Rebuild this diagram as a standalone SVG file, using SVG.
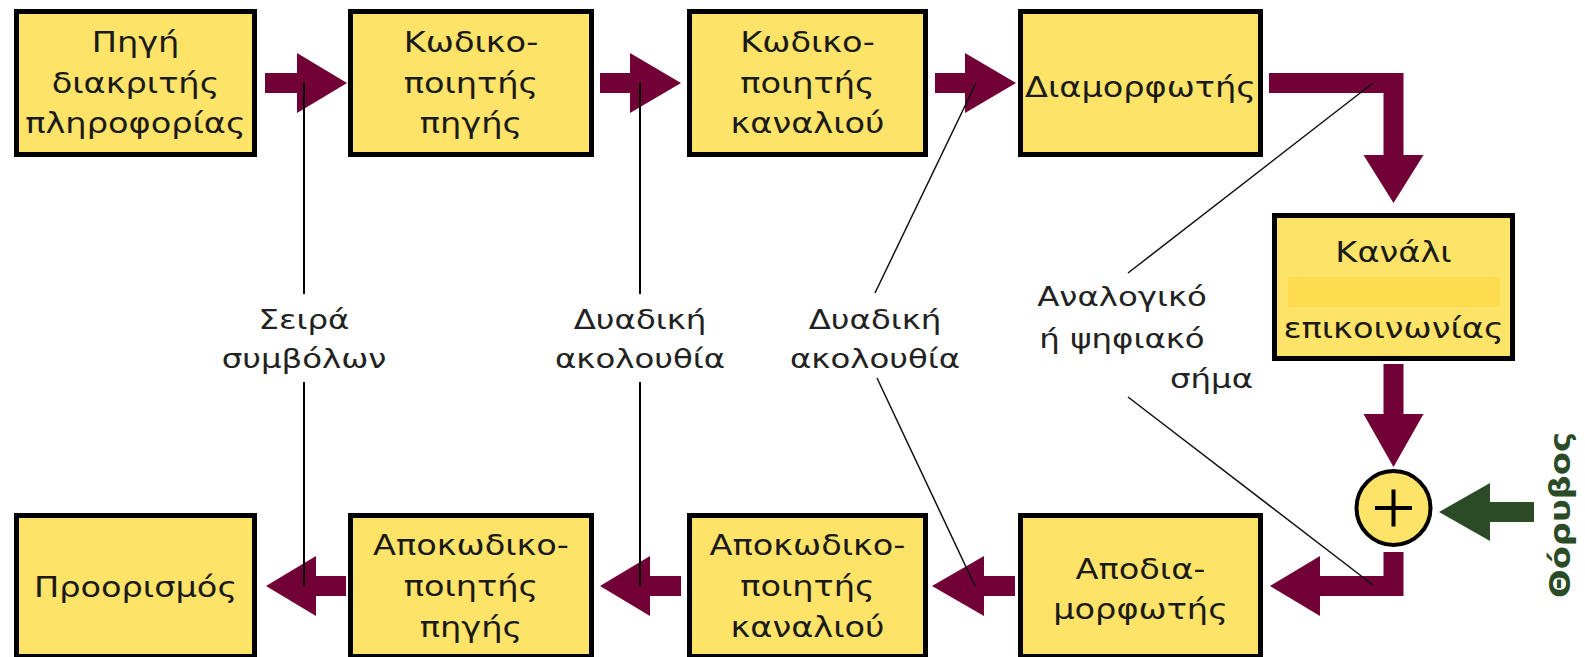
<svg xmlns="http://www.w3.org/2000/svg" width="1585" height="657" viewBox="0 0 1585 657">
<style>
.box{fill:#fde367;stroke:#000;stroke-width:5}
.t{font-family:"DejaVu Sans","Noto Sans",sans-serif;font-size:28px;fill:#1a1a1a;text-anchor:middle}
.lbl{font-family:"DejaVu Sans","Noto Sans",sans-serif;font-size:27px;fill:#222;text-anchor:middle}
.arr{fill:#700035}
.ln{stroke:#000;stroke-width:2;fill:none}
.dl{stroke:#111;stroke-width:1.5;fill:none}
</style>
<rect width="1585" height="657" fill="#fff"/>
<g id="arrows">
<polygon class="arr" points="265,73 297,73 297,53 347,83 297,113 297,93 265,93"/>
<polygon class="arr" points="600,73 630,73 630,53 681,83 630,113 630,93 600,93"/>
<polygon class="arr" points="935,73 965,73 965,53 1016,83 965,113 965,93 935,93"/>
<polygon class="arr" points="1269,73 1403.5,73 1403.5,155 1423.5,155 1393.5,203 1363.5,155 1383.5,155 1383.5,93 1269,93"/>
<polygon class="arr" points="1383.5,364 1403.5,364 1403.5,414 1423.5,414 1393.5,467 1363.5,414 1383.5,414"/>
<polygon class="arr" points="1383.5,552 1403.5,552 1403.5,596 1320,596 1320,616 1270,586 1320,556 1320,576 1383.5,576"/>
<polygon class="arr" points="1015,576 984,576 984,556 932,586 984,616 984,596 1015,596"/>
<polygon class="arr" points="681,576 650,576 650,556 600,586 650,616 650,596 681,596"/>
<polygon class="arr" points="346,576 316,576 316,556 266,586 316,616 316,596 346,596"/>
<polygon fill="#2b4a26" points="1534,502 1490,502 1490,483 1439,512 1490,541 1490,522 1534,522"/>
</g>
<g id="n1">
<rect class="box" x="16.5" y="11.5" width="238" height="143"/>
<g transform="translate(135.5 0) scale(1.2 1)">
<text class="t" x="0" y="52">Πηγή</text>
<text class="t" x="0" y="93">διακριτής</text>
<text class="t" x="0" y="133">πληροφορίας</text>
</g>
</g>
<g id="n2">
<rect class="box" x="350.5" y="11.5" width="241" height="143"/>
<g transform="translate(471 0) scale(1.2 1)">
<text class="t" x="0" y="52">Κωδικο-</text>
<text class="t" x="0" y="93">ποιητής</text>
<text class="t" x="0" y="133">πηγής</text>
</g>
</g>
<g id="n3">
<rect class="box" x="689.5" y="11.5" width="236" height="143"/>
<g transform="translate(807.5 0) scale(1.2 1)">
<text class="t" x="0" y="52">Κωδικο-</text>
<text class="t" x="0" y="93">ποιητής</text>
<text class="t" x="0" y="133">καναλιού</text>
</g>
</g>
<g id="n4">
<rect class="box" x="1020.5" y="11.5" width="240" height="143"/>
<g transform="translate(1140.5 0) scale(1.2 1)">
<text class="t" x="0" y="97">Διαμορφωτής</text>
</g>
</g>
<g id="n5">
<rect class="box" x="1274.5" y="215.5" width="238" height="143"/>
<rect x="1288" y="277" width="212" height="30" fill="#fedb4c"/>
<g transform="translate(1393.5 0) scale(1.2 1)">
<text class="t" x="0" y="262">Κανάλι</text>
<text class="t" x="0" y="338">επικοινωνίας</text>
</g>
</g>
<g id="adder">
<circle cx="1393.5" cy="508" r="37" fill="#fde367" stroke="#000" stroke-width="4"/>
<path d="M1375,508 H1412 M1393.5,489.5 V526.5" stroke="#000" stroke-width="4"/>
</g>
<g id="noise">
<text transform="translate(1570 515) rotate(-90)" x="0" y="0" text-anchor="middle" textLength="166" lengthAdjust="spacingAndGlyphs" style="font-family:'DejaVu Sans','Noto Sans',sans-serif;font-size:29px;font-weight:bold;fill:#2b4a26">Θόρυβος</text>
</g>
<g id="n6">
<rect class="box" x="1020.5" y="515.5" width="240" height="141"/>
<g transform="translate(1140.5 0) scale(1.2 1)">
<text class="t" x="0" y="579">Αποδια-</text>
<text class="t" x="0" y="619">μορφωτής</text>
</g>
</g>
<g id="n7">
<rect class="box" x="689.5" y="515.5" width="236" height="141"/>
<g transform="translate(807.5 0) scale(1.2 1)">
<text class="t" x="0" y="555">Αποκωδικο-</text>
<text class="t" x="0" y="596">ποιητής</text>
<text class="t" x="0" y="637">καναλιού</text>
</g>
</g>
<g id="n8">
<rect class="box" x="350.5" y="515.5" width="241" height="141"/>
<g transform="translate(471 0) scale(1.2 1)">
<text class="t" x="0" y="555">Αποκωδικο-</text>
<text class="t" x="0" y="596">ποιητής</text>
<text class="t" x="0" y="637">πηγής</text>
</g>
</g>
<g id="n9">
<rect class="box" x="16.5" y="515.5" width="238" height="141"/>
<g transform="translate(135.5 0) scale(1.2 1)">
<text class="t" x="0" y="597">Προορισμός</text>
</g>
</g>
<g id="connectors">
<path class="ln" d="M304,83 V294 M304,382 V586"/>
<path class="ln" d="M640,83 V294 M640,382 V586"/>
<path class="dl" d="M976,83 L875,293 M877,378 L975,586"/>
<path class="dl" d="M1373,83 L1128,273 M1128,397 L1373,585"/>
</g>
<g id="labels">
<g transform="translate(304 0) scale(1.2 1)">
<text class="lbl" x="0" y="329">Σειρά</text>
<text class="lbl" x="0" y="368">συμβόλων</text>
</g>
<g transform="translate(640 0) scale(1.2 1)">
<text class="lbl" x="0" y="329">Δυαδική</text>
<text class="lbl" x="0" y="368">ακολουθία</text>
</g>
<g transform="translate(875 0) scale(1.2 1)">
<text class="lbl" x="0" y="329">Δυαδική</text>
<text class="lbl" x="0" y="368">ακολουθία</text>
</g>
<g transform="translate(1122 0) scale(1.2 1)">
<text class="lbl" x="0" y="306">Αναλογικό</text>
<text class="lbl" x="0" y="348">ή ψηφιακό</text>
</g>
<g transform="translate(1170 0) scale(1.2 1)">
<text class="lbl" x="0" y="388" style="text-anchor:start">σήμα</text>
</g>
</g>
</svg>
